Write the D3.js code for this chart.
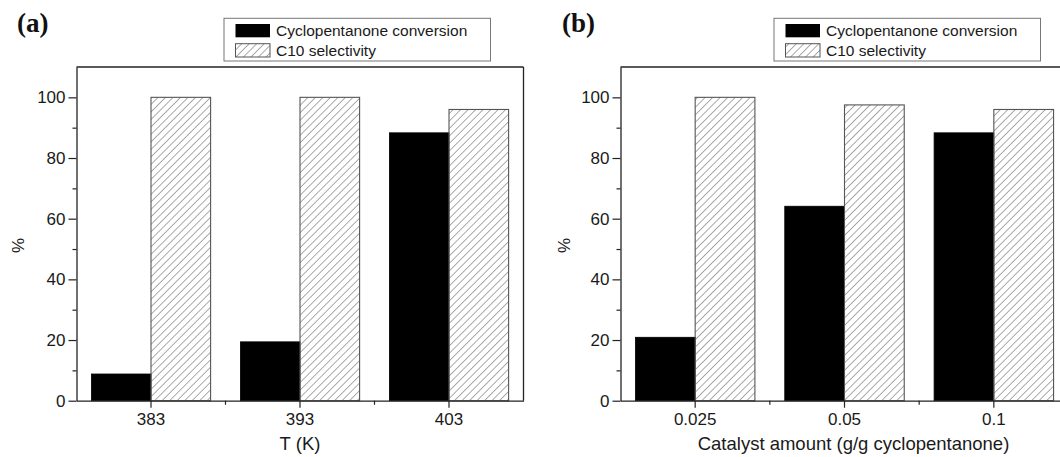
<!DOCTYPE html>
<html>
<head>
<meta charset="utf-8">
<script src="https://cdn.jsdelivr.net/npm/d3@7"></script>
<style>
  html, body { margin: 0; padding: 0; background: #fff; }
  svg { display: block; }
</style>
</head>
<body>
<svg id="chart" width="1060" height="457"></svg>
<script>
// ---- data ----
const categoriesA = ["383", "393", "403"];
const conversionA = [8.8, 19.4, 88.3];
const selectivityA = [100, 100, 96.0];

const categoriesB = ["0.025", "0.05", "0.1"];
const conversionB = [20.9, 64.1, 88.3];
const selectivityB = [100, 97.5, 96.0];

const seriesNames = ["Cyclopentanone conversion", "C10 selectivity"];
const yTicks = [0, 20, 40, 60, 80, 100];
const yMinorTicks = [10, 30, 50, 70, 90];
const yDomain = [0, 110];
const panelLabels = ["(a)", "(b)"];
const xTitles = ["T (K)", "Catalyst amount (g/g cyclopentanone)"];
const yTitle = "%";

// ---- drawing ----
const SANS = "'Liberation Sans', Arial, sans-serif";
const SERIF = "'Liberation Serif', 'Times New Roman', serif";
const svg = d3.select("#chart").style("font-family", SANS);
const defs = svg.append("defs");
defs.append("pattern")
  .attr("id", "hatch")
  .attr("patternUnits", "userSpaceOnUse")
  .attr("width", 5.3).attr("height", 5.3)
  .attr("patternTransform", "rotate(45)")
  .append("line")
  .attr("x1", 0).attr("y1", 0).attr("x2", 0).attr("y2", 5.3)
  .attr("stroke", "#555").attr("stroke-width", 1);

const plotTop = 67, plotBottom = 400.7;
const y = d3.scaleLinear().domain(yDomain).range([plotBottom, plotTop]);
const textColor = "#1a1a1a";

function drawPanel(cfg) {
  const g = svg.append("g");
  const x = d3.scaleBand().domain(cfg.categories).range([cfg.left, cfg.right]).padding(0);
  const bw = x.bandwidth() * 0.4;

  // frame (top and right)
  g.append("line").attr("x1", cfg.left).attr("x2", cfg.right).attr("y1", plotTop).attr("y2", plotTop)
    .attr("stroke", "#222").attr("stroke-width", 1.3);
  g.append("line").attr("x1", cfg.right).attr("x2", cfg.right).attr("y1", plotTop).attr("y2", plotBottom)
    .attr("stroke", "#222").attr("stroke-width", 1.3);

  // bars
  const rows = cfg.categories.map((c, i) => ({ c, conv: cfg.conversion[i], sel: cfg.selectivity[i] }));
  g.selectAll("rect.conv").data(rows).enter().append("rect")
    .attr("x", d => x(d.c) + x.bandwidth() / 2 - bw)
    .attr("y", d => y(d.conv))
    .attr("width", bw)
    .attr("height", d => y(0) - y(d.conv))
    .attr("fill", "#000").attr("stroke", "#000").attr("stroke-width", 0.8);
  g.selectAll("rect.sel").data(rows).enter().append("rect")
    .attr("x", d => x(d.c) + x.bandwidth() / 2)
    .attr("y", d => y(d.sel))
    .attr("width", bw)
    .attr("height", d => y(0) - y(d.sel))
    .attr("fill", "url(#hatch)").attr("stroke", "#555").attr("stroke-width", 1.1);

  // y axis
  const ya = g.append("g").attr("transform", `translate(${cfg.left},0)`)
    .call(d3.axisLeft(y).tickValues(yTicks).tickSize(8).tickSizeOuter(0).tickPadding(3));
  ya.attr("font-family", null);
  ya.select(".domain").attr("stroke", "#222").attr("stroke-width", 1.3);
  ya.selectAll(".tick line").attr("stroke", "#222").attr("stroke-width", 1.2);
  ya.selectAll(".tick text").style("font-size", "17px").style("font-family", SANS).attr("fill", textColor);
  g.append("g").attr("transform", `translate(${cfg.left},0)`)
    .call(d3.axisLeft(y).tickValues(yMinorTicks).tickSize(4).tickSizeOuter(0).tickFormat(""))
    .call(s => s.select(".domain").remove())
    .selectAll(".tick line").attr("stroke", "#222").attr("stroke-width", 1.2);

  // x axis
  const xa = g.append("g").attr("transform", `translate(0,${plotBottom})`)
    .call(d3.axisBottom(x).tickSize(7).tickSizeOuter(0).tickPadding(5));
  xa.attr("font-family", null);
  xa.select(".domain").attr("stroke", "#222").attr("stroke-width", 1.3);
  xa.selectAll(".tick line").attr("stroke", "#222").attr("stroke-width", 1.2);
  xa.selectAll(".tick text").style("font-size", "17px").style("font-family", SANS).attr("fill", textColor);
  // minor x ticks at band boundaries
  g.selectAll("line.xminor").data(cfg.categories.slice(1)).enter().append("line")
    .attr("x1", d => x(d)).attr("x2", d => x(d))
    .attr("y1", plotBottom).attr("y2", plotBottom + 4)
    .attr("stroke", "#222").attr("stroke-width", 1.2);

  // axis titles
  g.append("text").attr("x", cfg.xTitleX).attr("y", 450)
    .attr("text-anchor", "middle").style("font-size", "18.5px").attr("fill", textColor).text(cfg.xTitle);
  g.append("text")
    .attr("transform", `translate(${cfg.yTitleX},245.5) rotate(-90)`)
    .attr("text-anchor", "middle").attr("dominant-baseline", "central")
    .style("font-size", "17px").attr("fill", textColor).text(yTitle);

  // panel label
  g.append("text").attr("x", cfg.labelX).attr("y", 32)
    .style("font-family", SERIF)
    .style("font-weight", "bold").style("font-size", "27px").attr("fill", "#111").text(cfg.label);

  // legend
  const lg = g.append("g");
  lg.append("rect").attr("x", cfg.legendX).attr("y", 18.3).attr("width", 266.5).attr("height", 42.7)
    .attr("fill", "#fff").attr("stroke", "#777").attr("stroke-width", 1);
  lg.append("rect").attr("x", cfg.legendX + 11.5).attr("y", 24).attr("width", 34.5).attr("height", 13.3)
    .attr("fill", "#000");
  lg.append("rect").attr("x", cfg.legendX + 11.5).attr("y", 43.7).attr("width", 34.5).attr("height", 13.3)
    .attr("fill", "url(#hatch)").attr("stroke", "#555").attr("stroke-width", 1);
  lg.append("text").attr("x", cfg.legendX + 52).attr("y", 36).style("font-size", "15.5px").attr("fill", textColor).text(seriesNames[0]);
  lg.append("text").attr("x", cfg.legendX + 52).attr("y", 55.5).style("font-size", "15.5px").attr("fill", textColor).text(seriesNames[1]);
}

drawPanel({
  categories: categoriesA, conversion: conversionA, selectivity: selectivityA,
  left: 76.5, right: 523.5, xTitle: xTitles[0], xTitleX: 300, yTitleX: 18.5,
  label: panelLabels[0], labelX: 17, legendX: 224
});
drawPanel({
  categories: categoriesB, conversion: conversionB, selectivity: selectivityB,
  left: 620.5, right: 1068.5, xTitle: xTitles[1], xTitleX: 853.5, yTitleX: 564,
  label: panelLabels[1], labelX: 562, legendX: 774
});
</script>
</body>
</html>
